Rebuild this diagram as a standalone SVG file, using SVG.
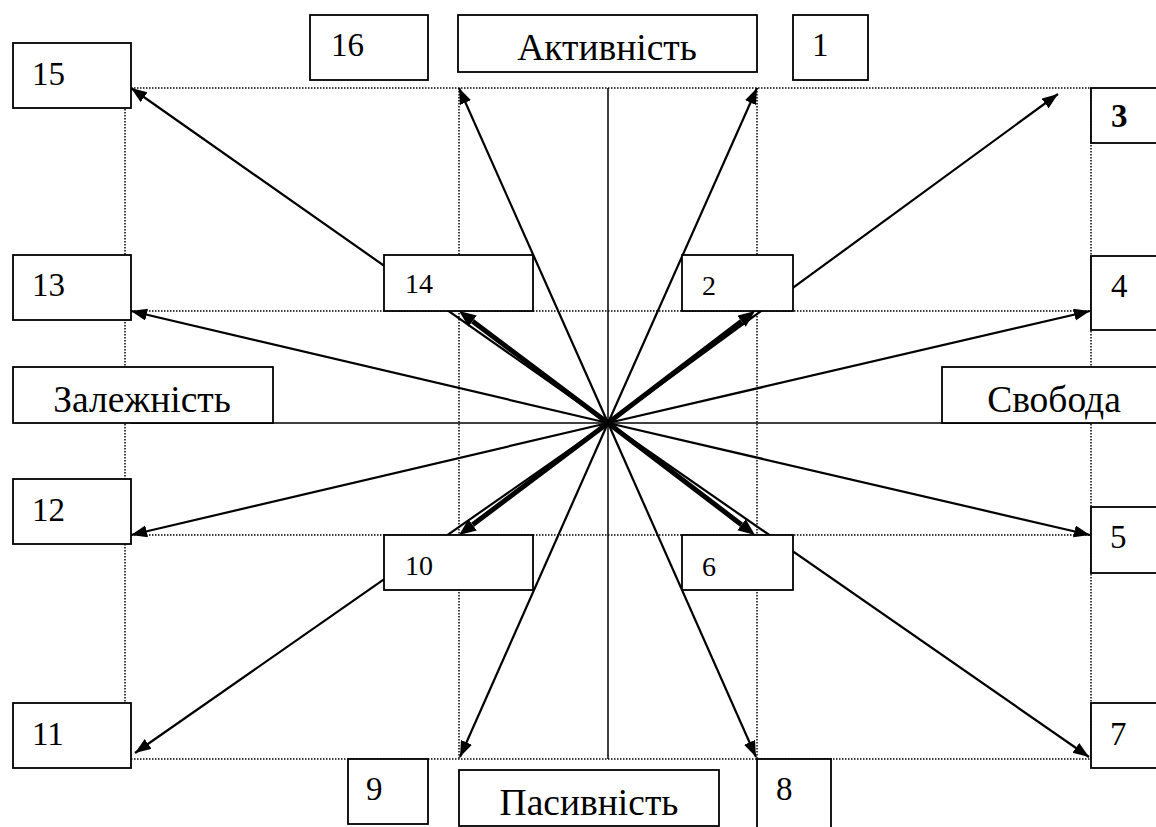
<svg xmlns="http://www.w3.org/2000/svg" width="1156" height="827" viewBox="0 0 1156 827" font-family="Liberation Serif, DejaVu Serif, serif">
<style>
.box{fill:#fff;stroke:#000;stroke-width:1.8}
.dot{stroke:#000;stroke-width:1.5;stroke-dasharray:1.5 1.5;fill:none}
.axis{stroke:#000;stroke-width:1.5;fill:none}
.thin{stroke:#000;stroke-width:2.2;fill:none;marker-end:url(#ah)}
.thick{stroke:#000;stroke-width:5;fill:none;marker-end:url(#ahk)}
.num{font-size:33px;fill:#000}
.sm{font-size:28px;fill:#000}
.lbl{font-size:37.5px;fill:#000;text-anchor:middle}
</style>
<defs>
<marker id="ah" markerUnits="userSpaceOnUse" markerWidth="18" markerHeight="14" refX="16" refY="6" orient="auto"><path d="M0,0 L16,6 L0,12 z" fill="#000"/></marker>
<marker id="ahk" markerUnits="userSpaceOnUse" markerWidth="20" markerHeight="16" refX="0" refY="7" orient="auto"><path d="M0,0 L17,7 L0,14 z" fill="#000"/></marker>
</defs>
<g id="grid">
<line class="dot" x1="125" y1="88" x2="1091" y2="88"/>
<line class="dot" x1="125" y1="311" x2="1091" y2="311"/>
<line class="dot" x1="125" y1="535" x2="1091" y2="535"/>
<line class="dot" x1="125" y1="759" x2="1091" y2="759"/>
<line class="dot" x1="125" y1="88" x2="125" y2="759"/>
<line class="dot" x1="459" y1="88" x2="459" y2="759"/>
<line class="dot" x1="757" y1="88" x2="757" y2="759"/>
<line class="dot" x1="1091" y1="88" x2="1091" y2="759"/>
<line class="axis" x1="608" y1="88" x2="608" y2="759"/>
<line class="axis" x1="131" y1="423" x2="1091" y2="423"/>
</g>
<g id="connectors">
<line class="thin" x1="608" y1="423" x2="131" y2="88"/>
<line class="thin" x1="608" y1="423" x2="459" y2="88"/>
<line class="thin" x1="608" y1="423" x2="757" y2="88"/>
<line class="thin" x1="608" y1="423" x2="1058" y2="94"/>
<line class="thin" x1="608" y1="423" x2="131" y2="311"/>
<line class="thin" x1="608" y1="423" x2="1090" y2="311"/>
<line class="thin" x1="608" y1="423" x2="131" y2="535"/>
<line class="thin" x1="608" y1="423" x2="1090" y2="535"/>
<line class="thin" x1="608" y1="423" x2="135" y2="753"/>
<line class="thin" x1="608" y1="423" x2="1089" y2="757"/>
<line class="thin" x1="608" y1="423" x2="460" y2="757"/>
<line class="thin" x1="608" y1="423" x2="756" y2="757"/>
<line class="thick" x1="608" y1="423" x2="472.6" y2="321.2"/>
<line class="thick" x1="608" y1="423" x2="741.5" y2="321.3"/>
<line class="thick" x1="608" y1="423" x2="472.6" y2="524.8"/>
<line class="thick" x1="608" y1="423" x2="741.5" y2="524.7"/>
</g>
<g id="n15"><rect class="box" x="13" y="43" width="118" height="65"/><text class="num" x="32" y="85">15</text></g>
<g id="n16"><rect class="box" x="310" y="15" width="118" height="65"/><text class="num" x="331" y="56">16</text></g>
<g id="activ"><rect class="box" x="458" y="15" width="299" height="57"/><text class="lbl" x="607" y="60">Активність</text></g>
<g id="n1"><rect class="box" x="793" y="15" width="75" height="65"/><text class="num" x="812" y="56">1</text></g>
<g id="n3"><rect class="box" x="1091" y="88" width="70" height="55"/><text class="num" x="1111" y="127" font-weight="bold" font-size="30">3</text></g>
<g id="n13"><rect class="box" x="13" y="255" width="118" height="65"/><text class="num" x="32" y="296">13</text></g>
<g id="n14"><rect class="box" x="384" y="255" width="149" height="56"/><text class="sm" x="405" y="293">14</text></g>
<g id="n2"><rect class="box" x="682" y="255" width="111" height="56"/><text class="sm" x="702" y="295">2</text></g>
<g id="n4"><rect class="box" x="1091" y="256" width="70" height="74"/><text class="num" x="1111" y="297">4</text></g>
<g id="zalezh"><rect class="box" x="13" y="367" width="260" height="56"/><text class="lbl" x="142" y="412">Залежність</text></g>
<g id="svoboda"><rect class="box" x="942" y="367" width="219" height="56"/><text class="lbl" x="1054" y="412">Свобода</text></g>
<g id="n12"><rect class="box" x="13" y="479" width="118" height="65"/><text class="num" x="32" y="521">12</text></g>
<g id="n10"><rect class="box" x="384" y="535" width="149" height="55"/><text class="sm" x="405" y="575">10</text></g>
<g id="n6"><rect class="box" x="682" y="535" width="111" height="55"/><text class="sm" x="702" y="576">6</text></g>
<g id="n5"><rect class="box" x="1091" y="507" width="70" height="66"/><text class="num" x="1110" y="548">5</text></g>
<g id="n11"><rect class="box" x="13" y="703" width="118" height="65"/><text class="num" x="32" y="745">11</text></g>
<g id="n7"><rect class="box" x="1091" y="703" width="70" height="65"/><text class="num" x="1110" y="745">7</text></g>
<g id="n9"><rect class="box" x="348" y="759" width="80" height="65"/><text class="num" x="366" y="800">9</text></g>
<g id="pasyv"><rect class="box" x="459" y="770" width="260" height="56"/><text class="lbl" x="589" y="815">Пасивність</text></g>
<g id="n8"><rect class="box" x="757" y="759" width="74" height="72"/><text class="num" x="776" y="800">8</text></g>
</svg>
